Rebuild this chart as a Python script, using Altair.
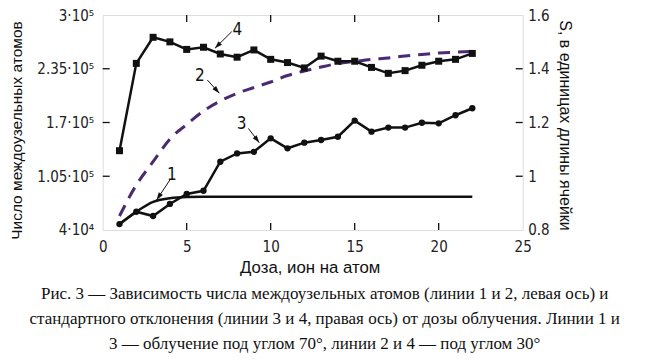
import altair as alt
import pandas as pd

# ---------------- data ----------------
dose = list(range(1, 23))
# line 4 (squares, right axis, 30 deg)
s_line4 = [1.095, 1.420, 1.517, 1.500, 1.472, 1.480, 1.455, 1.443, 1.470, 1.435, 1.423,
           1.403, 1.447, 1.428, 1.428, 1.405, 1.383, 1.393, 1.413, 1.428, 1.435, 1.457]
# line 3 (circles, right axis, 70 deg)
s_line3 = [0.822, 0.868, 0.852, 0.897, 0.934, 0.946, 1.054, 1.085, 1.091, 1.141, 1.104,
           1.125, 1.135, 1.147, 1.207, 1.166, 1.181, 1.181, 1.199, 1.197, 1.227, 1.253]
# line 2 (dashed, left axis, 30 deg)
n_line2 = [57000, 94400, 122600, 150000, 167600, 183900, 196000, 205300, 212300, 219000, 226800,
           232300, 237100, 241300, 243800, 246200, 248000, 250400, 252200, 254000, 255000, 255900]
# line 1 (solid, left axis, 70 deg)
dose_line1 = [1, 2, 3, 4, 5, 6, 7, 22]
n_line1 = [47000, 62000, 74000, 78500, 80000, 80300, 80300, 80300]

x_ticks = [0, 5, 10, 15, 20, 25]
inner_x_ticks = [5, 10, 15, 20]
left_ticks = [40000, 105000, 170000, 235000, 300000]
left_tick_labels = ["4·10⁴", "1.05·10⁵", "1.7·10⁵", "2.35·10⁵", "3·10⁵"]
inner_left_ticks = [105000, 170000, 235000]
right_ticks = [0.8, 1.0, 1.2, 1.4, 1.6]
inner_right_ticks = [1.0, 1.2, 1.4]

ann_label = ["1", "2", "3", "4"]
ann_x = [4.11, 5.79, 8.27, 8.01]
ann_y = [1.005, 1.373, 1.194, 1.544]
arr_x0 = [4.0, 6.23, 8.67, 7.68]
arr_y0 = [0.986, 1.358, 1.178, 1.538]
arr_x1 = [3.21, 6.94, 9.32, 6.68]
arr_y1 = [0.912, 1.309, 1.125, 1.476]
arr_angle = [214, 138, 143, 225]

x_title = "Доза, ион на атом"
left_title = "Число междоузельных атомов"
right_title = "S, в единицах длины ячейки"
caption = [
    "Рис. 3 — Зависимость числа междоузельных атомов (линии 1 и 2, левая ось) и",
    "стандартного отклонения (линии 3 и 4, правая ось) от дозы облучения. Линии 1 и",
    "3 — облучение под углом 70°, линии 2 и 4 — под углом 30°",
]

# ---------------- tables ----------------
main = pd.DataFrame({"x": dose, "s3": s_line3, "s4": s_line4, "n2": n_line2})
l1 = pd.DataFrame({"x": dose_line1, "n1": n_line1})
ann = pd.DataFrame({"label": ann_label, "x": ann_x, "y": ann_y,
                    "x0": arr_x0, "y0": arr_y0, "x1": arr_x1, "y1": arr_y1, "ang": arr_angle})
xt = pd.DataFrame({"x": inner_x_ticks})
lt = pd.DataFrame({"v": inner_left_ticks})
rt = pd.DataFrame({"v": inner_right_ticks})

W, H = 420, 215
BLACK = "#111111"
PURPLE = "#4B2A73"
LABEL_FONT = "Liberation Sans Narrow, DejaVu Sans Condensed, Liberation Sans"

x_scale = alt.Scale(domain=[0, 25], nice=False, zero=False)
x_axis = alt.Axis(values=x_ticks, format="d", grid=False, domain=False, ticks=False,
                  labelPadding=10, labelFont=LABEL_FONT, labelFontSize=15, labelColor="#222",
                  labelOverlap=False, labelFlush=False,
                  title=x_title, titleFont="Liberation Sans", titleFontSize=16.8,
                  titleFontWeight="normal", titleColor="#111",
                  titleX=207, titleY=38, titleBaseline="middle", titleAlign="center")

label_expr = "".join(f"datum.value == {v} ? '{t}' : " for v, t in zip(left_ticks, left_tick_labels)) + "''"
left_scale = alt.Scale(domain=[40000, 300000], nice=False, zero=False)
left_axis = alt.Axis(orient="left", values=left_ticks, labelExpr=label_expr, grid=False,
                     domain=False, ticks=False, labelPadding=9, labelFont=LABEL_FONT,
                     labelFontSize=15, labelColor="#222", labelOverlap=False, labelFlush=False,
                     title=left_title, titleFont="Liberation Sans", titleFontSize=15.5,
                     titleFontWeight="normal", titleColor="#111", titleAngle=270,
                     titleX=-86, titleY=115, titleBaseline="middle", titleAlign="center")

right_scale = alt.Scale(domain=[0.8, 1.6], nice=False, zero=False)
right_axis = alt.Axis(orient="right", values=right_ticks, format="~g", grid=False,
                      domain=False, ticks=False, labelPadding=5, labelFont=LABEL_FONT,
                      labelFontSize=15, labelColor="#222", labelOverlap=False, labelFlush=False,
                      title=right_title, titleFont="Liberation Sans", titleFontSize=16,
                      titleFontWeight="normal", titleColor="#111", titleAngle=90,
                      titleX=42, titleY=110, titleBaseline="middle", titleAlign="center")


def X(field="x"):
    return alt.X(f"{field}:Q", scale=x_scale, axis=x_axis)


def YL(field):
    return alt.Y(f"{field}:Q", scale=left_scale, axis=left_axis)


def YR(field):
    return alt.Y(f"{field}:Q", scale=right_scale, axis=right_axis)


# ---------------- left-axis group ----------------
line1 = alt.Chart(l1).mark_line(color=BLACK, strokeWidth=2.5, interpolate="monotone").encode(
    x=X(), y=YL("n1"))
line2 = alt.Chart(main).mark_line(color=PURPLE, strokeWidth=3, strokeDash=[12, 8],
                                  interpolate="monotone").encode(x=X(), y=YL("n2"))
lticks = alt.Chart(lt).mark_rule(color=BLACK, strokeWidth=1.3).encode(
    y=YL("v"), x=alt.value(0), x2=alt.value(7))
left_group = alt.layer(line2, line1, lticks)

# ---------------- right-axis group ----------------
line4 = alt.Chart(main).mark_line(color=BLACK, strokeWidth=2.5).encode(x=X(), y=YR("s4"))
pts4 = alt.Chart(main).mark_point(shape="square", filled=True, opacity=1, size=49,
                                  color=BLACK).encode(x=X(), y=YR("s4"))
line3 = alt.Chart(main).mark_line(color=BLACK, strokeWidth=2.5).encode(x=X(), y=YR("s3"))
pts3 = alt.Chart(main).mark_point(shape="circle", filled=True, opacity=1, size=40,
                                  color=BLACK).encode(x=X(), y=YR("s3"))
rticks = alt.Chart(rt).mark_rule(color=BLACK, strokeWidth=1.3).encode(
    y=YR("v"), x=alt.value(W - 7), x2=alt.value(W))
xticks_b = alt.Chart(xt).mark_rule(color=BLACK, strokeWidth=1.3).encode(
    x=X(), y=alt.value(H - 7), y2=alt.value(H))
xticks_t = alt.Chart(xt).mark_rule(color=BLACK, strokeWidth=1.3).encode(
    x=X(), y=alt.value(0), y2=alt.value(7))
arrows = alt.Chart(ann).mark_rule(color=BLACK, strokeWidth=1).encode(
    x=X("x0"), y=YR("y0"), x2="x1:Q", y2="y1:Q")
heads = alt.Chart(ann).mark_point(shape="M0,0L-0.5,1.5L0.5,1.5Z", filled=True, opacity=1,
                                  size=100, color=BLACK).encode(
    x=X("x1"), y=YR("y1"), angle=alt.Angle("ang:Q", scale=None))
labels = alt.Chart(ann).mark_text(font=LABEL_FONT, fontSize=17, color="#111",
                                  align="center", baseline="middle").encode(
    x=X(), y=YR("y"), text="label:N")
right_group = alt.layer(line4, pts4, line3, pts3, rticks, xticks_b, xticks_t,
                        arrows, heads, labels)

chart = alt.layer(left_group, right_group).resolve_scale(y="independent").properties(
    width=W, height=H,
    autosize=alt.AutoSizeParams(type="none"),
    padding={"left": 94.7, "top": 7, "right": 110, "bottom": 123},
    title=alt.TitleParams(text=caption, orient="bottom", font="Liberation Serif",
                          fontSize=17, fontWeight="normal", color="#111", lineHeight=25,
                          anchor="middle", dx=12, offset=9),
).configure_view(stroke="black", strokeWidth=3).configure(background="white")

chart.save("out.html", embed_options={"renderer": "svg", "actions": False})
